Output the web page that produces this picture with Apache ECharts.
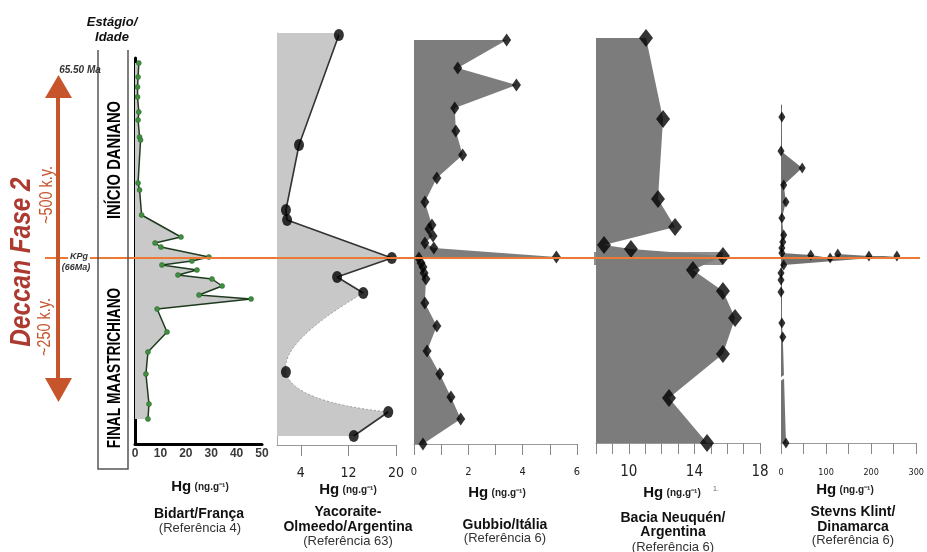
<!DOCTYPE html>
<html><head><meta charset="utf-8">
<script src="https://cdn.jsdelivr.net/npm/echarts@6/dist/echarts.min.js"></script>
<style>html,body{margin:0;padding:0;background:#fff}#c{width:927px;height:552px}</style>
</head><body><div id="c"></div>
<script>
// ---- DATA: Hg (ng.g-1) and stratigraphic position (relative units, 0 = KPg, + = older) ----
const bidartHg  = [1.5,1.2,1.0,1.0,1.5,1.2,1.8,2.2,1.2,1.8,2.6,18.1,7.9,10.2,29.1,22.4,10.6,24.4,16.9,30.3,34.3,25.2,45.7,8.7,12.6,5.1,4.3,5.5,5.1];
const bidartPos = [-195,-181,-171,-161,-146,-138,-121,-118,-75,-68,-43,-21,-15,-11,-1,3,7,12,17,21,28,37,41,51,74,94,116,146,161];

const yacoHg  = [10.4,3.7,1.5,1.7,19.3,10.1,14.5,1.5,18.7,12.9];
const yacoPos = [-223,-113,-48,-38,0,19,35,114,154,178];
const yacoCurve = [6,7,8]; // dotted curved stretch (start, through, end)

const gubHg  = [3.41,1.61,3.77,1.50,1.54,1.79,0.84,0.40,0.66,0.55,0.70,0.40,0.73,5.24,0.18,0.26,0.33,0.37,0.44,0.40,0.84,0.48,0.95,1.36,1.72,0.33];
const gubPos = [-218,-190,-173,-150,-127,-103,-80,-56,-33,-29,-22,-15,-10,-1,0,5,9,15,21,45,68,93,116,139,161,186];

const neuHg  = [11.05,12.09,11.78,12.82,8.49,10.13,15.74,13.91,15.74,16.48,15.74,12.45,14.77];
const neuPos = [-220,-139,-59,-31,-13,-9,-2,12,33,60,96,140,185];
const neuBandHg  = [8, 15.74];
const neuBandPos = [-6, 7];

const stevHg  = [2,0,47,6,11,2,6,4,2,2,66,109,126,195,257,6,0,0,0,2,4,11];
const stevPos = [-141,-107,-90,-73,-56,-40,-23,-16,-10,-5,-3,0,-4,-2,-2,7,15,22,34,65,79,185];
const stevBreakPos = 119;

const xTicks = {
  bidart: {min:0,max:50,interval:10,labels:[0,10,20,30,40,50]},
  yaco:   {min:0,max:20,ticks:[4,12,20],labels:[4,12,20]},
  gub:    {min:0,max:6,interval:1,labels:[0,2,4,6]},
  neu:    {min:8,max:18,interval:1,labels:[10,14,18]},
  stev:   {min:0,max:300,interval:50,labels:[0,100,200,300]}
};

// ---- LAYOUT ----
const KPG_Y = 258;
const panels = [
  {l:135,r:262,t:58,b:444},
  {l:277,r:396,t:33,b:445},
  {l:414,r:577,t:40,b:444},
  {l:596,r:760,t:38,b:443},
  {l:781,r:922,t:105,b:443}
];
const NARROW = "'Liberation Sans Narrow','DejaVu Sans Condensed','Roboto Condensed','Liberation Sans',sans-serif";
const SANS = "'Liberation Sans',Arial,sans-serif";

const chart = echarts.init(document.getElementById('c'), null, {renderer:'canvas'});

const grids = panels.map(p=>({left:p.l, top:p.t, width:p.r-p.l, height:p.b-p.t, containLabel:false}));
const yAxes = panels.map((p,i)=>({
  type:'value', gridIndex:i, inverse:true, min:p.t-KPG_Y, max:p.b-KPG_Y,
  splitLine:{show:false}, axisTick:{show:false}, axisLabel:{show:false},
  axisLine:{show: i===0||i===1||i===4, onZero:false,
    lineStyle:{color: i===0?'#000':(i===4?'#666':'#aaa'), width: i===0?3:1}}
}));
function grayX(i, cfg, fs, margin){
  const ax = {type:'value', gridIndex:i, min:cfg.min, max:cfg.max, position:'bottom',
    splitLine:{show:false},
    axisLine:{show:true,onZero:false,lineStyle:{color:'#999',width:1}},
    axisTick:{show:true,length:11,lineStyle:{color:'#888'}},
    axisLabel:{show:true,fontFamily:NARROW,fontSize:fs,color:'#222',margin:margin,customValues:cfg.labels}};
  if (cfg.interval) ax.interval = cfg.interval;
  if (cfg.ticks) ax.axisTick.customValues = cfg.ticks;
  return ax;
}
const xAxes = [
  {type:'value', gridIndex:0, min:xTicks.bidart.min, max:xTicks.bidart.max, interval:xTicks.bidart.interval, position:'bottom',
   splitLine:{show:false}, axisTick:{show:false},
   axisLine:{show:true,onZero:false,lineStyle:{color:'#000',width:3}},
   axisLabel:{fontFamily:SANS,fontWeight:'bold',fontSize:12,color:'#3a3a3a',margin:4}},
  grayX(1, xTicks.yaco, 14, 21),
  grayX(2, xTicks.gub, 11, 23),
  grayX(3, xTicks.neu, 15, 22),
  grayX(4, xTicks.stev, 9, 25)
];

function pairs(hs, ps){ return hs.map((h,i)=>[h, ps[i]]); }

function polyFill(hs, ps, base, topPos, color, extraBefore, extraAfter){
  return function(params, api){
    if (params.dataIndex !== 0) return;
    const pts = [api.coord([base, topPos])];
    for (let i=0;i<hs.length;i++) pts.push(api.coord([hs[i], ps[i]]));
    pts.push(api.coord([base, ps[ps.length-1]]));
    const children = [];
    if (extraBefore) children.push(...extraBefore(api));
    children.push({type:'polygon', shape:{points:pts}, style:{fill:color}});
    if (extraAfter) children.push(...extraAfter(api));
    return {type:'group', children};
  };
}

function yacoRender(params, api){
  if (params.dataIndex !== 0) return;
  const P = yacoHg.map((h,i)=>api.coord([h, yacoPos[i]]));
  const [a,m,b] = yacoCurve;
  const top = api.coord([0, panels[1].t-KPG_Y]);
  const c = [2*P[m][0]-(P[a][0]+P[b][0])/2, 2*P[m][1]-(P[a][1]+P[b][1])/2];
  let d = `M${top[0]} ${top[1]} L${P[0][0]} ${top[1]}`;
  for (let i=0;i<=a;i++) d += ` L${P[i][0]} ${P[i][1]}`;
  d += ` Q${c[0]} ${c[1]} ${P[b][0]} ${P[b][1]}`;
  for (let i=b+1;i<P.length;i++) d += ` L${P[i][0]} ${P[i][1]}`;
  const bl = api.coord([0, yacoPos[yacoPos.length-1]]);
  d += ` L${bl[0]} ${bl[1]} Z`;
  const curve = `M${P[a][0]} ${P[a][1]} Q${c[0]} ${c[1]} ${P[b][0]} ${P[b][1]}`;
  return {type:'group', children:[
    {type:'path', shape:{pathData:d}, style:{fill:'#c8c8c8'}},
    {type:'path', shape:{pathData:curve}, style:{fill:null, stroke:'#9a9a9a', lineWidth:1, lineDash:[2,2]}}
  ]};
}

const series = [
  {type:'custom', xAxisIndex:0, yAxisIndex:0, z:1, silent:true, data:pairs(bidartHg,bidartPos),
   renderItem: polyFill(bidartHg,bidartPos,0,bidartPos[0],'#c9c9c9')},
  {type:'custom', xAxisIndex:1, yAxisIndex:1, z:1, silent:true, data:pairs(yacoHg,yacoPos), renderItem: yacoRender},
  {type:'custom', xAxisIndex:2, yAxisIndex:2, z:1, silent:true, data:pairs(gubHg,gubPos),
   renderItem: polyFill(gubHg,gubPos,0,panels[2].t-KPG_Y,'#7d7d7d')},
  {type:'custom', xAxisIndex:3, yAxisIndex:3, z:1, silent:true, data:pairs(neuHg,neuPos),
   renderItem: polyFill(neuHg,neuPos,8,panels[3].t-KPG_Y,'#7c7c7c', function(api){
     const p1 = api.coord([neuBandHg[0], neuBandPos[0]]), p2 = api.coord([neuBandHg[1], neuBandPos[1]]);
     return [{type:'rect', shape:{x:p1[0]-2, y:p1[1], width:p2[0]-p1[0]+2, height:p2[1]-p1[1]}, style:{fill:'#8e8e8e'}}];
   })},
  {type:'custom', xAxisIndex:4, yAxisIndex:4, z:1, silent:true, data:pairs(stevHg,stevPos),
   renderItem: polyFill(stevHg,stevPos,0,panels[4].t-KPG_Y,'#727272', null, function(api){
     const p = api.coord([0, stevBreakPos]);
     return [{type:'line', shape:{x1:p[0]-5, y1:p[1]+5, x2:p[0]+9, y2:p[1]-4}, style:{stroke:'#fff', lineWidth:3}, z2:5}];
   })},
  {type:'line', xAxisIndex:0, yAxisIndex:0, z:5, data:pairs(bidartHg,bidartPos), symbol:'circle', symbolSize:5,
   lineStyle:{color:'#1f3b1f', width:1.5}, itemStyle:{color:'#3f8f3f', borderColor:'#2a5e2a', borderWidth:0.5}, animation:false},
  {type:'line', xAxisIndex:1, yAxisIndex:1, z:5, data:pairs(yacoHg.slice(0,yacoCurve[0]+1), yacoPos.slice(0,yacoCurve[0]+1)),
   showSymbol:false, symbol:'none', lineStyle:{color:'#333', width:1.6}, animation:false},
  {type:'line', xAxisIndex:1, yAxisIndex:1, z:5, data:pairs(yacoHg.slice(yacoCurve[2]), yacoPos.slice(yacoCurve[2])),
   showSymbol:false, symbol:'none', lineStyle:{color:'#333', width:1.6}, animation:false},
  {type:'scatter', xAxisIndex:1, yAxisIndex:1, z:10, data:pairs(yacoHg,yacoPos), symbol:'circle', symbolSize:[10,12], itemStyle:{color:'#000'}},
  {type:'scatter', xAxisIndex:2, yAxisIndex:2, z:10, data:pairs(gubHg,gubPos), symbol:'diamond', symbolSize:[9,13], itemStyle:{color:'#000'}},
  {type:'scatter', xAxisIndex:3, yAxisIndex:3, z:10, data:pairs(neuHg,neuPos), symbol:'diamond', symbolSize:[14,18], itemStyle:{color:'#000'}},
  {type:'scatter', xAxisIndex:4, yAxisIndex:4, z:10, data:pairs(stevHg,stevPos), symbol:'diamond', symbolSize:[7,11], itemStyle:{color:'#000'}}
];

chart.setOption({animation:false, grid:grids, xAxis:xAxes, yAxis:yAxes, series:series});

const kpgY = chart.convertToPixel({gridIndex:1}, [0,0])[1];
const ORANGE = '#ec7a35', RUST = '#c6552b';
function txt(x,y,text,opt){
  return {type:'text', x:x, y:y, z:60, style:Object.assign({text:text, align:'center', verticalAlign:'middle', fill:'#111', fontFamily:SANS, fontSize:13}, opt||{})};
}
function rtxt(x,y,text,opt,sx){ const t = txt(x,y,text,opt); t.rotation = Math.PI/2; t.scaleX = sx||1; return t; }
function hg(x,y){
  return {type:'text', x:x, y:y, z:60, style:{text:'{a|Hg} {b|(ng.g⁻¹)}', align:'center', verticalAlign:'middle',
    rich:{a:{fontFamily:SANS,fontWeight:'bold',fontSize:15,fill:'#111'}, b:{fontFamily:SANS,fontWeight:'bold',fontSize:10,fill:'#222'}}}};
}
const B = {fontWeight:'bold', fontSize:14};
const R = {fontSize:13, fill:'#333'};

const graphic = [
  {type:'line', z:40, shape:{x1:45, y1:kpgY, x2:920, y2:kpgY}, style:{stroke:ORANGE, lineWidth:2}},
  {type:'rect', z:40, shape:{x:56, y:96, width:4, height:284}, style:{fill:RUST}},
  {type:'polygon', z:40, shape:{points:[[45,98],[72,98],[58.5,75]]}, style:{fill:RUST}},
  {type:'polygon', z:40, shape:{points:[[45,378],[72,378],[58.5,402]]}, style:{fill:RUST}},
  {type:'polyline', z:40, shape:{points:[[98,50],[98,469],[128,469],[128,50]]}, style:{stroke:'#555', lineWidth:1.5, fill:null}},
  txt(112,22,'Estágio/',{fontWeight:'bold',fontStyle:'italic',fontSize:13}),
  txt(112,37,'Idade',{fontWeight:'bold',fontStyle:'italic',fontSize:13}),
  rtxt(115,160,'INÍCIO DANIANO',{fontWeight:'bold',fontSize:18,fontFamily:SANS,fill:'#000'},0.82),
  rtxt(115,368,'FINAL MAASTRICHIANO',{fontWeight:'bold',fontSize:18,fontFamily:SANS,fill:'#000'},0.76),
  txt(80,70,'65.50 Ma',{fontWeight:'bold',fontStyle:'italic',fontSize:10,fill:'#333'}),
  txt(79,kpgY-1,'KPg',{fontWeight:'bold',fontStyle:'italic',fontSize:9,fill:'#333',backgroundColor:'#fff',padding:[0,2]}),
  txt(76,kpgY+10,'(66Ma)',{fontWeight:'bold',fontStyle:'italic',fontSize:9,fill:'#333'}),
  rtxt(22,262,'Deccan Fase 2',{fontWeight:'bold',fontStyle:'italic',fontSize:29,fill:'#ad3a30'},0.84),
  rtxt(47,195,'~500 k.y.',{fontSize:18,fontFamily:SANS,fill:RUST},0.8),
  rtxt(45,327,'~250 k.y.',{fontSize:18,fontFamily:SANS,fill:RUST},0.8),
  hg(200,487), txt(199,514,'Bidart/França',B), txt(200,528,'(Referência 4)',R),
  hg(348,490), txt(348,512,'Yacoraite-',B), txt(348,527,'Olmeedo/Argentina',B), txt(348,541,'(Referência 63)',R),
  hg(497,493), txt(505,525,'Gubbio/Itália',B), txt(505,538,'(Referência 6)',R),
  hg(672,493), txt(716,489,'1.',{fontSize:7,fill:'#666'}), txt(673,518,'Bacia Neuquén/',B), txt(673,532,'Argentina',B), txt(673,547,'(Referência 6)',R),
  hg(845,490), txt(853,512,'Stevns Klint/',B), txt(853,527,'Dinamarca',B), txt(853,540,'(Referência 6)',R)
];
chart.setOption({graphic:graphic});
</script></body></html>
